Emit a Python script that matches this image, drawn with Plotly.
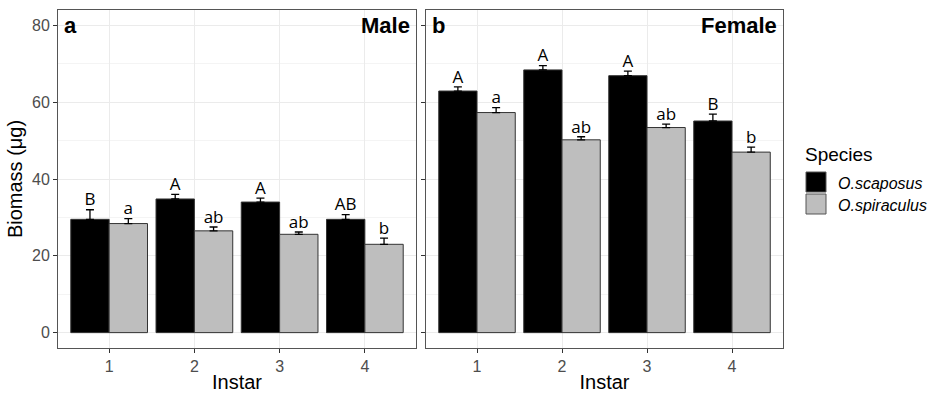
import plotly.graph_objects as go

instar = [1, 2, 3, 4]
species = ["O.scaposus", "O.spiraculus"]

male_scaposus = [29.5, 34.8, 34.0, 29.5]
male_scaposus_se = [2.5, 1.2, 1.0, 1.2]
male_spiraculus = [28.4, 26.5, 25.6, 23.0]
male_spiraculus_se = [1.3, 1.0, 0.6, 1.6]

female_scaposus = [62.9, 68.4, 66.9, 55.1]
female_scaposus_se = [1.1, 1.1, 1.2, 1.8]
female_spiraculus = [57.3, 50.2, 53.4, 47.0]
female_spiraculus_se = [1.3, 0.8, 0.9, 1.3]

male_scaposus_lab = ["B", "A", "A", "AB"]
male_spiraculus_lab = ["a", "ab", "ab", "b"]
female_scaposus_lab = ["A", "A", "A", "B"]
female_spiraculus_lab = ["a", "ab", "ab", "b"]

colors = ["#000000", "#BEBEBE"]
BW = 0.45

# body margin is removed in the page (post_script), so the figure fills the window
PAD = 0
W, H = 936, 393


def px(xp):
    return (xp - PAD) / W


def py(yp):
    return 1 - (yp - PAD) / H


FONT = "Liberation Sans, Arial, sans-serif"

fig = go.Figure()

panels = [
    ("x", "y", [male_scaposus, male_spiraculus], [male_scaposus_se, male_spiraculus_se],
     [male_scaposus_lab, male_spiraculus_lab]),
    ("x2", "y2", [female_scaposus, female_spiraculus], [female_scaposus_se, female_spiraculus_se],
     [female_scaposus_lab, female_spiraculus_lab]),
]

for pi, (xa, ya, vals, ses, labs) in enumerate(panels):
    for si in range(2):
        offset = -BW if si == 0 else 0.0
        fig.add_trace(go.Bar(
            x=instar, y=vals[si], width=BW, offset=offset,
            name=species[si], showlegend=False,
            marker=dict(color=colors[si], line=dict(color="#333333", width=1)),
            error_y=dict(type="data", symmetric=False, array=ses[si],
                         arrayminus=[0] * 4, color="#000000", thickness=1.3, width=4),
            xaxis=xa, yaxis=ya,
        ))
        xs = [i + offset + BW / 2 for i in instar]
        ys = [v + e for v, e in zip(vals[si], ses[si])]
        fig.add_trace(go.Scatter(
            x=xs, y=ys, mode="text", text=labs[si], textposition="top center",
            textfont=dict(family="Open Sans, sans-serif", size=17, color="#000000"),
            showlegend=False, hoverinfo="skip", xaxis=xa, yaxis=ya,
        ))

top = py(10)
bot = py(348)
axis_common = dict(showline=True, linecolor="#555555", linewidth=1, mirror=True,
                   ticks="outside", ticklen=4, tickcolor="#333333",
                   gridcolor="#EBEBEB", gridwidth=1, zeroline=False, automargin=False,
                   tickfont=dict(family=FONT, size=16, color="#4D4D4D"))

xcommon = dict(range=[0.4, 4.6], tickvals=instar, ticktext=[str(i) for i in instar],
               title=dict(text="Instar", font=dict(family=FONT, size=20, color="#000000"),
                          standoff=4),
               **axis_common)
ycommon = dict(range=[-4, 84], tick0=0, dtick=20,
               minor=dict(dtick=10, showgrid=True, gridcolor="#F4F4F4", ticks=""),
               **axis_common)

fig.update_layout(
    width=W, height=H,
    margin=dict(l=0, r=0, t=0, b=0),
    plot_bgcolor="#FFFFFF", paper_bgcolor="#FFFFFF",
    barmode="overlay",
    showlegend=False,
    xaxis=dict(domain=[px(58), px(416)], anchor="y", **xcommon),
    xaxis2=dict(domain=[px(426), px(783)], anchor="y2", **xcommon),
    yaxis=dict(domain=[bot, top], anchor="x",
               title=dict(text="Biomass (μg)", font=dict(family=FONT, size=20, color="#000000"),
                          standoff=4),
               **ycommon),
    yaxis2=dict(domain=[bot, top], anchor="x2", matches="y", showticklabels=False, **ycommon),
)

for xa, ya, letter, sex in [("x", "y", "a", "Male"), ("x2", "y2", "b", "Female")]:
    fig.add_annotation(xref=f"{xa} domain", yref=f"{ya} domain", x=0.01, y=0.998,
                       xanchor="left", yanchor="top", showarrow=False, text=f"<b>{letter}</b>",
                       font=dict(family=FONT, size=22, color="#000000"))
    fig.add_annotation(xref=f"{xa} domain", yref=f"{ya} domain", x=0.988, y=0.998,
                       xanchor="right", yanchor="top", showarrow=False, text=f"<b>{sex}</b>",
                       font=dict(family=FONT, size=22, color="#000000"))

# legend (drawn manually to match ggplot-style keys)
fig.add_annotation(xref="paper", yref="paper", x=px(803), y=py(154), xanchor="left", yanchor="middle",
                   showarrow=False, text="Species", font=dict(family=FONT, size=19, color="#000000"))
key_tops = [172, 194]
for si in range(2):
    t = key_tops[si]
    fig.add_shape(type="rect", xref="paper", yref="paper",
                  x0=px(806), x1=px(826), y0=py(t + 20), y1=py(t),
                  fillcolor=colors[si], line=dict(color="#555555", width=1))
    fig.add_annotation(xref="paper", yref="paper", x=px(836), y=py(t + 11), xanchor="left", yanchor="middle",
                       showarrow=False, text=f"<i>{species[si]}</i>",
                       font=dict(family=FONT, size=16, color="#000000"))

fig.write_html("out.html",
               config={"displayModeBar": False},
               post_script="document.body.style.margin='0';document.body.style.overflow='hidden';")
